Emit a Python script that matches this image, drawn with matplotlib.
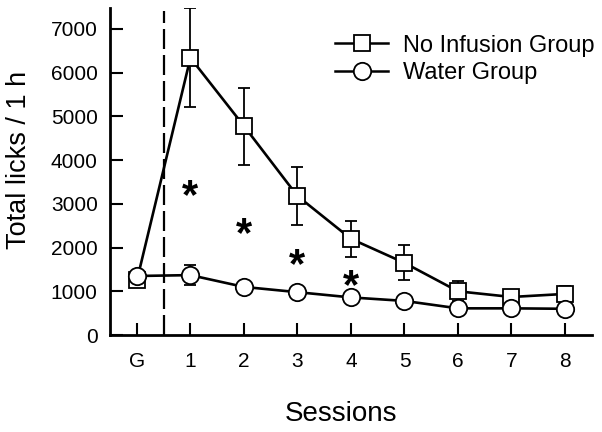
import numpy as np
import matplotlib.pyplot as plt
from matplotlib.lines import Line2D

plt.rcParams['font.family'] = ['Liberation Sans', 'DejaVu Sans']

# === DATOS ===
sessions = ['G', '1', '2', '3', '4', '5', '6', '7', '8']
no_inf_mean = [1250, 6340, 4780, 3180, 2200, 1650, 1000, 870, 940]
no_inf_sem = [80, 1130, 880, 670, 410, 400, 230, 60, 180]
water_mean = [1350, 1370, 1100, 980, 860, 780, 610, 610, 600]
water_sem = [60, 230, 60, 50, 50, 40, 40, 40, 40]
star_sessions = [1, 2, 3, 4]
star_y = [3150, 2280, 1580, 1100]

x = np.arange(len(sessions))

fig = plt.figure(figsize=(6.02, 4.32), dpi=100)
ax = fig.add_axes([0.183, 0.2245, 0.80, 0.757])

ax.errorbar(x, no_inf_mean, yerr=no_inf_sem, color='black', lw=1.9,
            marker='s', ms=11.3, mfc='white', mec='black', mew=1.3,
            capsize=4.3, capthick=1.3, elinewidth=1.3, zorder=3)
ax.errorbar(x, water_mean, yerr=water_sem, color='black', lw=1.9,
            marker='o', ms=12.5, mfc='white', mec='black', mew=1.3,
            capsize=4.3, capthick=1.3, elinewidth=1.3, zorder=4)

ax.plot([0.5, 0.5], [0, 7400], color='black', lw=1.6, dashes=(9, 2.7))

for s, yy in zip(star_sessions, star_y):
    ax.text(x[s], yy, '*', ha='center', va='center', fontsize=30, fontweight='bold')

ax.set_xlim(-0.5, 8.5)
ax.set_ylim(0, 7480)
ax.set_yticks(range(0, 8000, 1000))
ax.set_xticks(x)
ax.set_xticklabels(sessions)
ax.tick_params(direction='in', length=9, width=1.5, labelsize=15)
ax.tick_params(axis='x', pad=12)
ax.tick_params(axis='y', pad=9)
for side in ['top', 'right']:
    ax.spines[side].set_visible(False)
for side in ['left', 'bottom']:
    ax.spines[side].set_linewidth(2)

ax.set_ylabel('Total licks / 1 h', fontsize=19.5)
ax.yaxis.set_label_coords(-0.162, 0.535)
ax.set_xlabel('Sessions', fontsize=20)
ax.xaxis.set_label_coords(0.479, -0.202)

handles = [
    Line2D([], [], color='black', lw=1.8, marker='s', ms=11.3, mfc='white', mec='black', mew=1.3),
    Line2D([], [], color='black', lw=1.8, marker='o', ms=12.5, mfc='white', mec='black', mew=1.3),
]
fig.legend(handles, ['No Infusion Group', 'Water Group'], loc='upper left',
           bbox_to_anchor=(0.541, 0.942), borderaxespad=0, frameon=False, fontsize=17,
           handlelength=2.25, handletextpad=0.64, labelspacing=0.25)

fig.savefig('out.png', dpi=100)
